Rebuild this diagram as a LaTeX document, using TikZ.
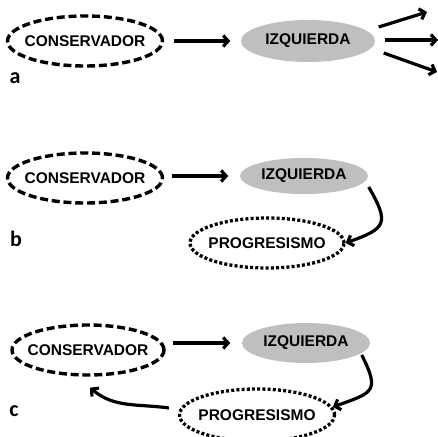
\documentclass[tikz,border=0pt]{standalone}
\usepackage{fontspec}
\setmainfont{Liberation Sans}
\newfontfamily\lblfont{Carlito}
\tikzset{ell/.style = {ellipse, inner xsep = -10pt, inner ysep = 0, line width = 3.4pt, font = \fontsize{15.5}{15.5}\selectfont\bfseries}}
\tikzset{cons/.style = {ell, draw, dash pattern = on 8pt off 3.8pt, minimum width = 155, minimum height = 50}}
\tikzset{izq/.style = {ell, fill = black!25, minimum width = 130, minimum height = 40}}
\tikzset{prog/.style = {ell, draw, line width = 3.3pt, dash pattern = on 3pt off 2.2pt, minimum width = 154, minimum height = 50}}
\tikzset{arr/.style = {line width = 3.2pt, -{Straight Barb[length = 5pt, width = 11pt]}}}
\tikzset{lbl/.style = {font = \lblfont\bfseries\fontsize{22}{22}\selectfont}}
\usetikzlibrary{calc,shapes.geometric,
                 arrows.meta}

\begin{document}
\begin{tikzpicture}[x = 1pt, y = 1pt]
      \useasboundingbox (0, 0) rectangle (438, 436);
      % a
      \node [cons] (consA) at (85, 395) {CONSERVADOR};
      \node [izq, minimum width = 134, minimum height = 42] (izqA) at (308, 395) {IZQUIERDA};
      \node [lbl] (labA) at (15, 358) {a};
      \coordinate (upA) at (427, 424);
      \coordinate (midA) at (438, 396);
      \coordinate (lowA) at (437, 364);
      \draw [arr, shorten <= 10pt, shorten >= 9pt] (consA.east) -- (izqA.west);
      \draw [arr] (izqA.east) ++(2, 14) -- (upA);
      \draw [arr] (izqA.east) ++(8, 1) -- (midA);
      \draw [arr] (izqA.east) ++(7, -12) -- (lowA);
      % b
      \node [cons] (consB) at (85, 258) {CONSERVADOR};
      \node [izq, minimum width = 128, minimum height = 36] (izqB) at (304, 260) {IZQUIERDA};
      \node [prog] (progB) at (267, 193) {PROGRESISMO};
      \node [lbl] (labB) at (16, 197) {b};
      \draw [arr, shorten <= 8pt, shorten >= 10pt] (consB.east |- izqB) -- (izqB.west);
      \draw [arr] (izqB.east) ++(-1, -11) to [out = -60, in = 20, looseness = 1.8] (progB.east);
      % c
      \node [cons, minimum width = 152] (consC) at (88, 86) {CONSERVADOR};
      \node [izq, minimum width = 128] (izqC) at (306, 93) {IZQUIERDA};
      \node [prog, minimum width = 155, minimum height = 52] (progC) at (257, 21) {PROGRESISMO};
      \node [lbl] (labC) at (14, 25) {c};
      \draw [arr, shorten <= 7pt, shorten >= 10pt] (consC.east |- izqC) -- (izqC.west);
      \draw [arr] (izqC.east) ++(-10, -12) to [out = -63, in = 20, looseness = 1.8] (progC.6);
      \draw [arr] (progC.west) ++(-9, 7) to [out = 172, in = -40] ($(consC.south) + (2, -11)$);
    \end{tikzpicture}
\end{document}
